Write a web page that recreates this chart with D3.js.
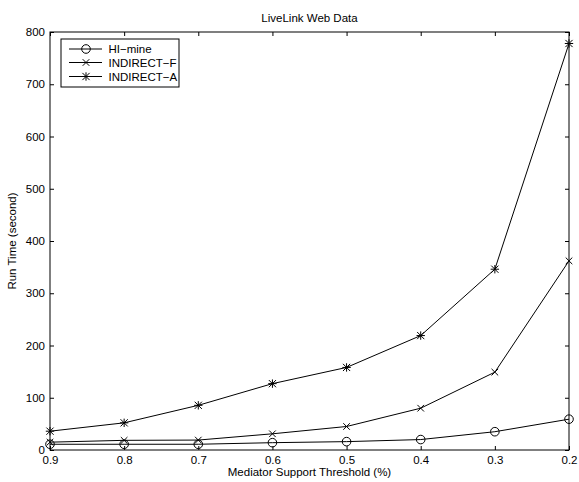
<!DOCTYPE html>
<html><head><meta charset="utf-8">
<script src="https://cdn.jsdelivr.net/npm/d3@7"></script>
<style>body{margin:0;background:#fff}text{font-family:"Liberation Sans",Arial,sans-serif;fill:#000}</style>
</head><body><svg id="c" width="579" height="482"></svg>
<script>
const thresholds = [0.9, 0.8, 0.7, 0.6, 0.5, 0.4, 0.3, 0.2];
const xTickLabels = ["0.9","0.8","0.7","0.6","0.5","0.4","0.3","0.2"];
const yTicks = [0,100,200,300,400,500,600,700,800];
const hiMine = [11, 11, 11, 14, 16, 20, 35, 59];
const indirectF = [15, 18.5, 19, 31, 45, 80, 149, 362];
const indirectA = [36, 52, 85.5, 127, 158, 219, 346, 778];
const seriesNames = ["HI\u2212mine", "INDIRECT\u2212F", "INDIRECT\u2212A"];
const seriesValues = [hiMine, indirectF, indirectA];
const markerTypes = ["circle", "x", "star"];

const svg = d3.select("#c");
const L = 50, R = 569, T = 32, B = 450;
const x = d3.scalePoint().domain(thresholds).range([L, R]);
const y = d3.scaleLinear().domain([0, 800]).range([B, T]);

// box
svg.append("rect").attr("x", L).attr("y", T).attr("width", R - L).attr("height", B - T)
  .attr("fill", "none").attr("stroke", "#000").attr("stroke-width", 1);

const tk = 4;
const fmtX = (d, i) => xTickLabels[i];
const ax = [
  svg.append("g").attr("transform", `translate(0,${B})`).call(d3.axisBottom(x).tickSizeInner(-tk).tickSizeOuter(0).tickPadding(6).tickFormat(fmtX)),
  svg.append("g").attr("transform", `translate(0,${T})`).call(d3.axisTop(x).tickSizeInner(-tk).tickSizeOuter(0).tickFormat("")),
  svg.append("g").attr("transform", `translate(${L},0)`).call(d3.axisLeft(y).tickValues(yTicks).tickSizeInner(-tk).tickSizeOuter(0).tickPadding(5).tickFormat(d3.format("d"))),
  svg.append("g").attr("transform", `translate(${R},0)`).call(d3.axisRight(y).tickValues(yTicks).tickSizeInner(-tk).tickSizeOuter(0).tickFormat(""))
];
ax.forEach(g => {
  g.select(".domain").remove();
  g.selectAll("line").attr("stroke", "#000");
  g.selectAll("text").style("font-size", "11.5px").attr("fill", "#000");
});

function drawMarker(g, type, cx, cy) {
  if (type === "circle") {
    g.append("circle").attr("cx", cx).attr("cy", cy).attr("r", 4.3).attr("fill", "none").attr("stroke", "#000").attr("stroke-width", 1);
  } else if (type === "x") {
    const s = 3.3;
    g.append("path").attr("d", `M${cx-s},${cy-s}L${cx+s},${cy+s}M${cx-s},${cy+s}L${cx+s},${cy-s}`).attr("stroke", "#000").attr("stroke-width", 1);
  } else {
    const s = 3.6, p = 4.2;
    g.append("path").attr("d", `M${cx-s},${cy-s}L${cx+s},${cy+s}M${cx-s},${cy+s}L${cx+s},${cy-s}M${cx-p},${cy}L${cx+p},${cy}M${cx},${cy-p}L${cx},${cy+p}`).attr("stroke", "#000").attr("stroke-width", 1);
  }
}

const line = d3.line().x((d, i) => x(thresholds[i])).y(d => y(d));
seriesValues.forEach((vals, k) => {
  const g = svg.append("g");
  g.append("path").attr("d", line(vals)).attr("fill", "none").attr("stroke", "#000").attr("stroke-width", 1);
  vals.forEach((v, i) => drawMarker(g, markerTypes[k], x(thresholds[i]), y(v)));
});

// legend
const lg = svg.append("g");
lg.append("rect").attr("x", 61).attr("y", 39).attr("width", 118).attr("height", 48).attr("fill", "#fff").attr("stroke", "#000").attr("stroke-width", 1);
const ly = [49, 62.5, 76.5];
seriesNames.forEach((n, k) => {
  lg.append("line").attr("x1", 69).attr("x2", 102).attr("y1", ly[k]).attr("y2", ly[k]).attr("stroke", "#000");
  drawMarker(lg, markerTypes[k], 86, ly[k]);
  lg.append("text").attr("x", 108.5).attr("y", ly[k]).attr("dy", "0.36em").style("font-size", "11.5px").text(n);
});

svg.append("text").attr("x", (L + R) / 2).attr("y", 22).attr("text-anchor", "middle").style("font-size", "11.5px").text("LiveLink Web Data");
svg.append("text").attr("x", (L + R) / 2).attr("y", 476).attr("text-anchor", "middle").style("font-size", "11.5px").text("Mediator Support Threshold (%)");
svg.append("text").attr("transform", `translate(16,${(T + B) / 2}) rotate(-90)`).attr("text-anchor", "middle").style("font-size", "11.5px").text("Run Time (second)");
</script></body></html>
